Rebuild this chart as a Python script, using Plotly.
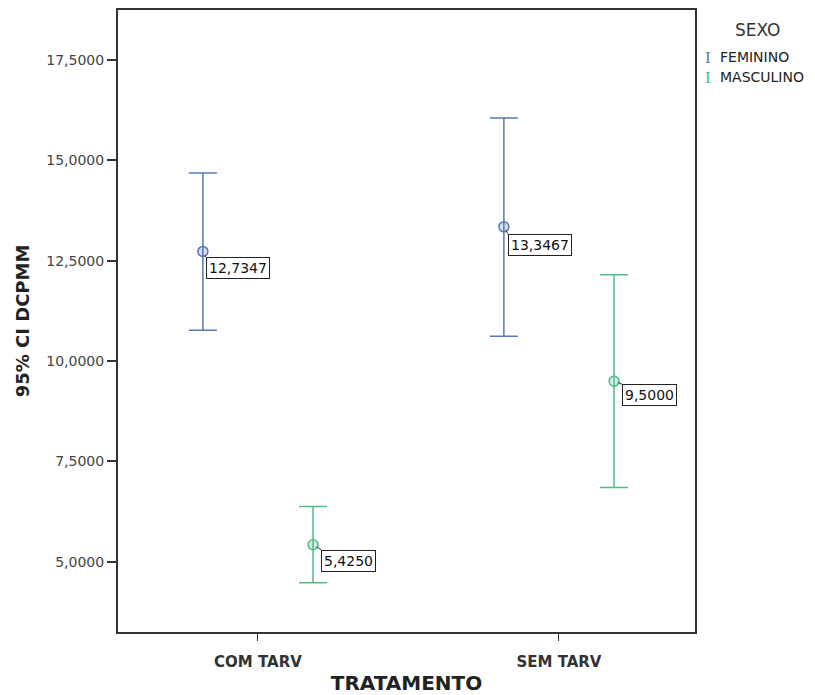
import plotly.graph_objects as go

# Group means and 95% confidence limits of DCPMM by treatment and sex
tratamento = ["COM TARV", "SEM TARV"]
sexo = ["FEMININO", "MASCULINO"]
media = {"FEMININO": [12.7347, 13.3467], "MASCULINO": [5.4250, 9.5000]}
ic_inferior = {"FEMININO": [10.77, 10.62], "MASCULINO": [4.48, 6.85]}
ic_superior = {"FEMININO": [14.69, 16.06], "MASCULINO": [6.38, 12.15]}
yticks = [5.0, 7.5, 10.0, 12.5, 15.0, 17.5]

cores = {"FEMININO": "#5878B4", "MASCULINO": "#4DBE86"}
preench = {"FEMININO": "rgba(88,120,180,0.25)", "MASCULINO": "rgba(77,190,134,0.25)"}
desloc = {"FEMININO": -0.183, "MASCULINO": 0.183}
# label offsets (px) from each mean marker to its value box
rotulo_off = {"FEMININO": [(3, 6), (4, 7)], "MASCULINO": [(8, 5), (8, 3)]}

FONT = "DejaVu Sans"
fig = go.Figure()
annotations = []

for s in sexo:
    xs = [i + 1 + desloc[s] for i in range(len(tratamento))]
    ys = media[s]
    up = [hi - m for hi, m in zip(ic_superior[s], ys)]
    dn = [m - lo for lo, m in zip(ic_inferior[s], ys)]
    fig.add_trace(go.Scatter(
        x=xs, y=ys, mode="markers", name=s, showlegend=False,
        marker=dict(symbol="circle", size=10, color=preench[s],
                    line=dict(color=cores[s], width=1.5)),
        error_y=dict(type="data", symmetric=False, array=up, arrayminus=dn,
                     color=cores[s], thickness=1.5, width=14),
    ))
    for x, y, (ox, oy) in zip(xs, ys, rotulo_off[s]):
        annotations.append(dict(
            x=x, y=y, xref="x", yref="y",
            text=f"{y:.4f}".replace(".", ","),
            showarrow=True, arrowhead=0, arrowwidth=1, arrowcolor="#333",
            ax=ox, ay=oy, xanchor="left", yanchor="top", standoff=4,
            bordercolor="#222", borderwidth=1, borderpad=2, bgcolor="white",
            font=dict(family=FONT, size=14, color="#111"),
        ))

# Legend block drawn as text to the right of the plot
annotations.append(dict(x=1.109, y=0.968, xref="paper", yref="paper",
                        text="SEXO", showarrow=False, xanchor="center", yanchor="middle",
                        font=dict(family=FONT, size=17, color="#333")))
for k, (s, yy) in enumerate(zip(sexo, [0.924, 0.892])):
    annotations.append(dict(x=1.022, y=yy, xref="paper", yref="paper",
                            text="I", showarrow=False, xanchor="center", yanchor="middle",
                            font=dict(family="Liberation Serif", size=17, color=cores[s])))
    annotations.append(dict(x=1.04, y=yy, xref="paper", yref="paper",
                            text=s, showarrow=False, xanchor="left", yanchor="middle",
                            font=dict(family=FONT, size=14, color="#222")))

fig.update_layout(
    width=815, height=695,
    margin=dict(l=118, r=120, t=10, b=63),
    paper_bgcolor="white", plot_bgcolor="white",
    separators=",.",
    showlegend=False,
    annotations=annotations,
    font=dict(family=FONT, color="#333"),
)
fig.update_xaxes(
    range=[0.535, 2.452], tickvals=[1, 2], ticktext=tratamento,
    showgrid=False, zeroline=False, automargin=False,
    showline=True, linecolor="#333", linewidth=2, mirror=True,
    ticks="outside", ticklen=7, tickcolor="#333", tickwidth=1,
    ticklabelstandoff=8,
    tickfont=dict(family=FONT, size=15, color="#333", weight="bold"),
    title=dict(text="<b>TRATAMENTO</b>", standoff=10,
               font=dict(family=FONT, size=20, color="#222")),
)
fig.update_yaxes(
    range=[3.25, 18.75], tickvals=yticks, tickformat=".4f",
    showgrid=False, zeroline=False, automargin=False,
    showline=True, linecolor="#333", linewidth=2, mirror=True,
    ticks="outside", ticklen=9, tickcolor="#333", tickwidth=1.5,
    tickfont=dict(family=FONT, size=14, color="#444"),
    title=dict(text="<b>95% CI DCPMM</b>", standoff=12,
               font=dict(family=FONT, size=18, color="#222")),
)

fig.write_html("out.html")
